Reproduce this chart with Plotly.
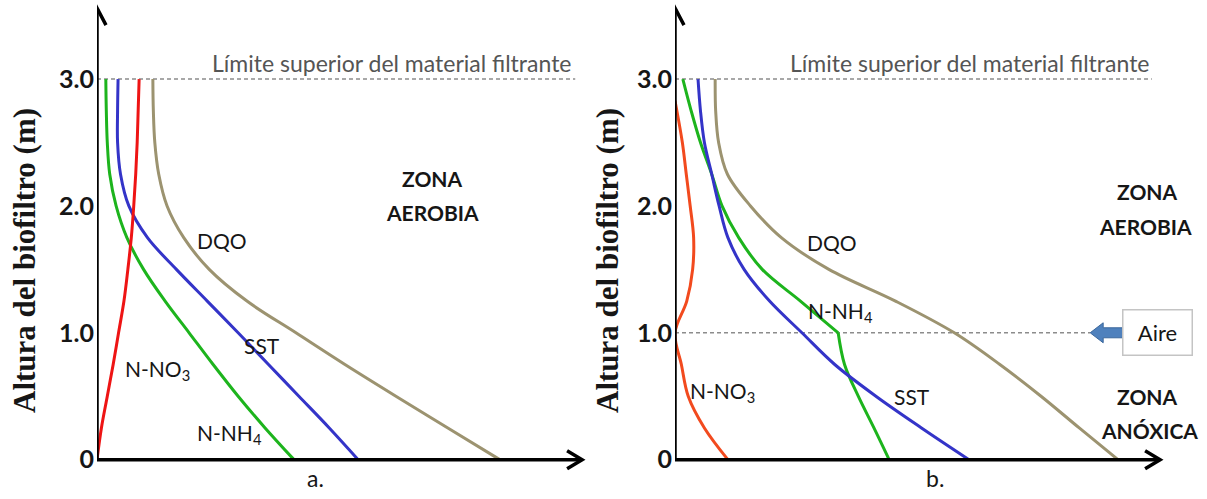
import plotly.graph_objects as go

# ---------------------------------------------------------------------------
# Perfiles de concentración a lo largo de la altura del biofiltro
# ---------------------------------------------------------------------------
HEIGHT = [3.0, 2.75, 2.5, 2.25, 2.0, 1.75, 1.5, 1.25, 1.0, 0.75, 0.5, 0.25, 0.0]
TICK_VALUES = [0, 1, 2, 3]
TICK_TEXT = ["0", "1.0", "2.0", "3.0"]

# a. biofiltro totalmente aerobio
NNH4_A = [0.18, 0.19, 0.21, 0.26, 0.39, 0.61, 0.95, 1.39, 1.88, 2.37, 2.88, 3.43, 4.02]
SST_A = [0.43, 0.42, 0.42, 0.48, 0.65, 1.03, 1.62, 2.25, 2.88, 3.50, 4.12, 4.74, 5.33]
DQO_A = [1.14, 1.15, 1.18, 1.26, 1.43, 1.77, 2.29, 3.06, 4.06, 5.06, 6.10, 7.16, 8.22]
NNO3_A = [0.86, 0.84, 0.82, 0.79, 0.75, 0.70, 0.63, 0.55, 0.44, 0.33, 0.21, 0.09, 0.0]

# b. aireación a 1.0 m: zona aerobia arriba, zona anóxica abajo
AIR_HEIGHT = 1.0
NNH4_B = [0.16, 0.33, 0.52, 0.75, 0.96, 1.30, 1.78, 2.56, 3.33, 3.46, 3.74, 4.06, 4.37]
SST_B = [0.47, 0.52, 0.60, 0.75, 0.90, 1.08, 1.41, 1.93, 2.59, 3.26, 4.10, 5.03, 6.00]
DQO_B = [0.82, 0.83, 0.89, 1.07, 1.54, 2.17, 3.14, 4.50, 5.70, 6.63, 7.47, 8.25, 9.04]
NNO3_B_HEIGHT = [2.83, 2.5, 2.25, 2.0, 1.75, 1.5, 1.25, 1.0, 0.75, 0.5, 0.25, 0.0]
NNO3_B = [0.0, 0.15, 0.23, 0.31, 0.38, 0.36, 0.24, 0.0, 0.13, 0.27, 0.60, 1.08]

GREEN = "#1db41d"
BLUE = "#3434c8"
TAN = "#9c9370"
RED = "#ee1414"
ORANGE = "#f24a1e"
INK = "#161616"
GREY = "#8c8c8c"

W, H = 1207, 499
X_MAX = 10.85
PX_PER_UNIT = 49
LEFT_A, LEFT_B = 97, 675


def domain(left):
    return [left / W, (left + X_MAX * PX_PER_UNIT) / W]


fig = go.Figure()


def curve(x, y, color, xa, ya):
    fig.add_trace(go.Scatter(
        x=x, y=y, mode="lines", xaxis=xa, yaxis=ya, hoverinfo="skip",
        line=dict(color=color, width=3, shape="spline", smoothing=1.0),
        showlegend=False,
    ))


# panel a
curve(NNH4_A, HEIGHT, GREEN, "x", "y")
curve(SST_A, HEIGHT, BLUE, "x", "y")
curve(DQO_A, HEIGHT, TAN, "x", "y")
curve(NNO3_A, HEIGHT, RED, "x", "y")

# panel b (N-NH4 bends sharply at the air inlet)
k = HEIGHT.index(AIR_HEIGHT)
curve(NNH4_B[:k + 1], HEIGHT[:k + 1], GREEN, "x2", "y2")
curve(NNH4_B[k:], HEIGHT[k:], GREEN, "x2", "y2")
curve(SST_B, HEIGHT, BLUE, "x2", "y2")
curve(DQO_B, HEIGHT, TAN, "x2", "y2")
curve(NNO3_B, NNO3_B_HEIGHT, ORANGE, "x2", "y2")

yaxis_common = dict(
    range=[-0.2, 3.6], domain=[0, 1], showgrid=False, zeroline=False,
    showline=False, ticks="", tickvals=TICK_VALUES, ticktext=TICK_TEXT,
    tickfont=dict(family="Lato", size=25, color=INK, weight="bold"),
    ticklabelstandoff=2, automargin=False,
)
xaxis_common = dict(range=[0, X_MAX], visible=False, automargin=False)

fig.update_layout(
    width=W, height=H,
    margin=dict(l=0, r=0, t=3, b=14),
    paper_bgcolor="white", plot_bgcolor="rgba(0,0,0,0)",
    xaxis=dict(domain=domain(LEFT_A), anchor="y", **xaxis_common),
    xaxis2=dict(domain=domain(LEFT_B), anchor="y2", **xaxis_common),
    yaxis=dict(anchor="x", **yaxis_common),
    yaxis2=dict(anchor="x2", **yaxis_common),
)

shapes = []
annotations = []
Y_TIP, X_TIP = 3.56, 9.9
for xr, yr, limit_end in (("x", "y", 9.76), ("x2", "y2", 9.73)):
    # top of the filter medium
    shapes.append(dict(type="line", xref=xr, yref=yr, x0=0, x1=limit_end, y0=3, y1=3,
                       line=dict(color=GREY, width=1.5, dash="4px,3px"), layer="below"))
    # axes with open arrow heads
    shapes.append(dict(type="line", xref=xr, yref=yr, x0=0, x1=0, y0=0, y1=Y_TIP,
                       line=dict(color="black", width=3.5)))
    shapes.append(dict(type="line", xref=xr, yref=yr, x0=0, x1=X_TIP, y0=0, y1=0,
                       line=dict(color="black", width=3.5)))
    shapes.append(dict(type="path", xref=xr, yref=yr, xsizemode="pixel", ysizemode="pixel",
                       xanchor=0, yanchor=Y_TIP, path="M -9,-17 L 0,0 L 9,-17",
                       line=dict(color="black", width=3.5)))
    shapes.append(dict(type="path", xref=xr, yref=yr, xsizemode="pixel", ysizemode="pixel",
                       xanchor=X_TIP, yanchor=0, path="M -15,9 L 0,0 L -15,-9",
                       line=dict(color="black", width=3.5)))
    annotations.append(dict(xref=xr, yref=yr, x=2.3, y=3.0, xanchor="left", yanchor="bottom",
                            text="Límite superior del material filtrante", showarrow=False,
                            font=dict(family="Lato", size=23, color="#555555")))

# vertical axis titles
for x_px in (24, 607):
    annotations.append(dict(
        xref="paper", yref="paper", x=x_px / W, y=(485 - 261) / 482,
        xanchor="center", yanchor="middle", textangle=-90, showarrow=False,
        text="Altura del biofiltro (m)",
        font=dict(family="Liberation Serif", size=31, color=INK, weight="bold"),
    ))

# air inlet in panel b
AIR_LINE_END = 8.47
shapes.append(dict(type="line", xref="x2", yref="y2", x0=0, x1=AIR_LINE_END,
                   y0=AIR_HEIGHT, y1=AIR_HEIGHT,
                   line=dict(color=GREY, width=1.5, dash="4px,3px"), layer="below"))
shapes.append(dict(type="path", xref="x2", yref="y2", xsizemode="pixel", ysizemode="pixel",
                   xanchor=8.82, yanchor=AIR_HEIGHT,
                   path="M -17,0 L -4,10 L -4,5 L 17,5 L 17,-5 L -4,-5 L -4,-10 Z",
                   fillcolor="#4f81bd", line=dict(color="#3b679c", width=1)))


def label(text, x, y, xr, yr, size=21, bold=False):
    annotations.append(dict(
        xref=xr, yref=yr, x=x, y=y, text=text, showarrow=False,
        xanchor="center", yanchor="middle",
        font=dict(family="Lato", size=size, color=INK, weight="bold" if bold else "normal"),
    ))


# panel a labels
label("ZONA", 6.84, 2.22, "x", "y", bold=True)
label("AEROBIA", 6.84, 1.95, "x", "y", bold=True)
label("DQO", 2.55, 1.73, "x", "y")
label("SST", 3.37, 0.90, "x", "y")
label("N-NO<sub>3</sub>", 1.24, 0.71, "x", "y")
label("N-NH<sub>4</sub>", 2.71, 0.20, "x", "y")

# panel b labels
label("ZONA", 9.65, 2.11, "x2", "y2", bold=True)
label("AEROBIA", 9.61, 1.84, "x2", "y2", bold=True)
label("ZONA", 9.65, 0.50, "x2", "y2", bold=True)
label("ANÓXICA", 9.69, 0.23, "x2", "y2", bold=True)
label("DQO", 3.20, 1.71, "x2", "y2")
label("SST", 4.84, 0.50, "x2", "y2")
label("N-NO<sub>3</sub>", 0.96, 0.53, "x2", "y2")
label("N-NH<sub>4</sub>", 3.37, 1.16, "x2", "y2")

# panel letters under the horizontal axes
for xr, x, letter in (("x", 4.45, "a."), ("x2", 5.31, "b.")):
    annotations.append(dict(
        xref=xr, yref="paper", x=x, y=(485 - 478) / 482, text=letter,
        showarrow=False, xanchor="center", yanchor="middle",
        font=dict(family="Lato", size=23, color=INK),
    ))

annotations.append(dict(
    xref="x2", yref="y2", x=9.84, y=AIR_HEIGHT, text="Aire", showarrow=False,
    width=68, height=44, bordercolor="#c4c4c4", borderwidth=1.5, borderpad=0,
    bgcolor="white", font=dict(family="Lato", size=22, color=INK),
))

fig.update_layout(shapes=shapes, annotations=annotations)
fig.write_html("out.html")
